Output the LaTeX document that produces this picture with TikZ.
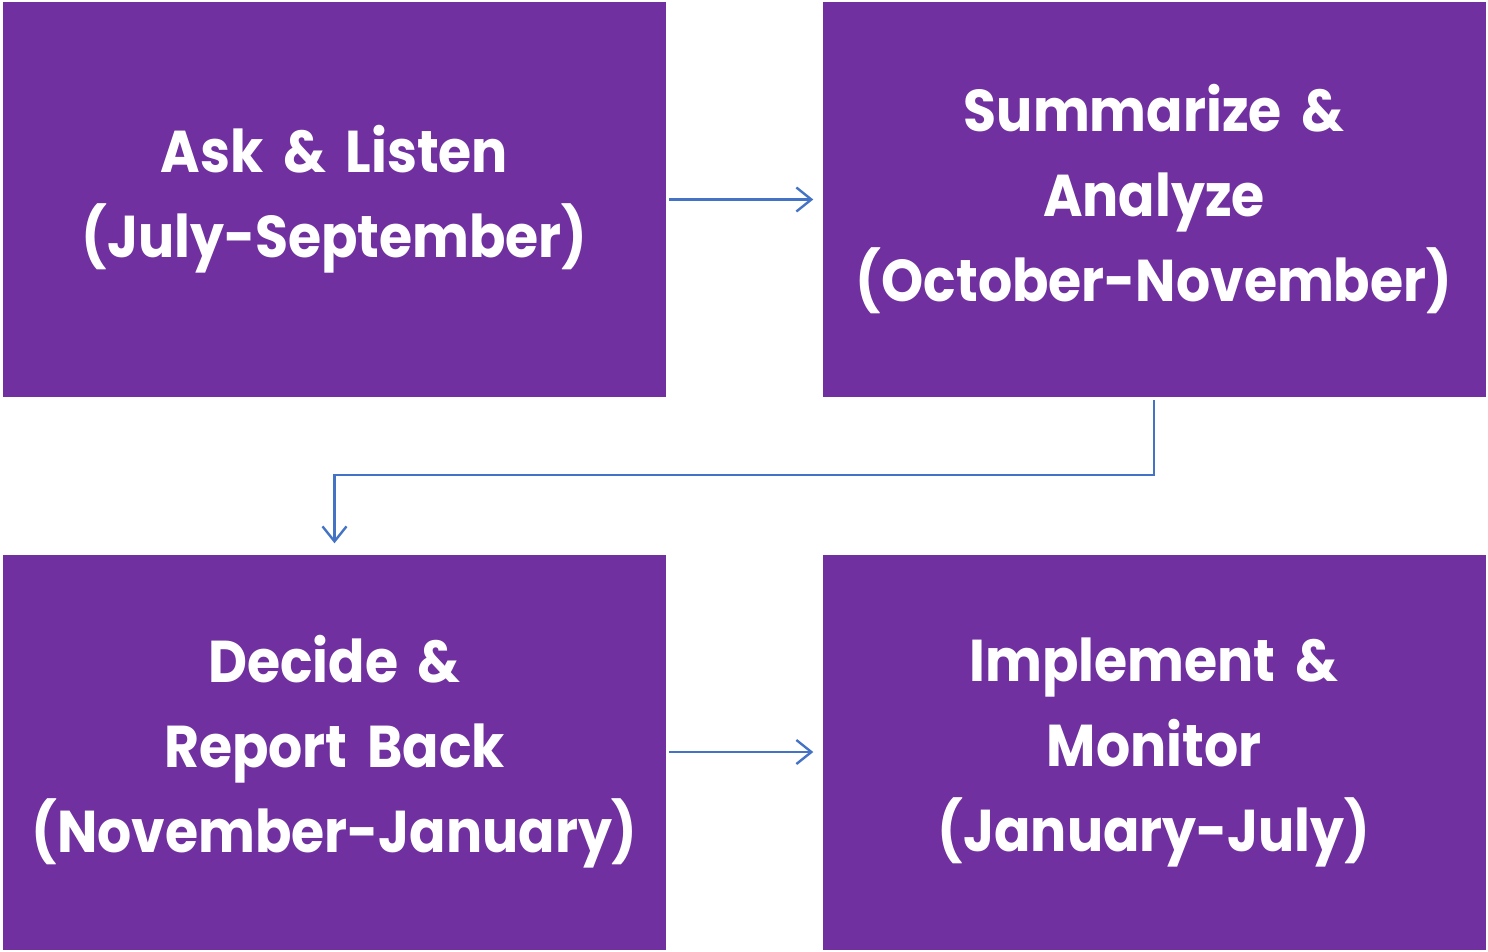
\documentclass[tikz,border=0pt]{standalone}
\usepackage{fontspec}
\setmainfont{Poppins}[UprightFont=* Bold, FakeStretch=0.91, WordSpace=0.8]
\usetikzlibrary{arrows.meta}
\definecolor{stagepurple}{HTML}{7030A0}
\definecolor{flowblue}{HTML}{4472C4}
\tikzset{
  stagebox/.style={fill=stagepurple, text=white, minimum width=663pt,
    minimum height=395pt, text width=650pt, inner sep=0pt, align=center,
    font=\fontsize{59}{85}\selectfont},
  flowarrow/.style={draw=flowblue, line width=2.4pt,
    -{Straight Barb[length=15pt, width=24pt]}}
}
\begin{document}
\begin{tikzpicture}[x=1pt, y=-1pt]
  \useasboundingbox (0,0) rectangle (1488,952);

  \node [stagebox] (ask) at (334.5, 199.5) {Ask \& Listen\\(July-September)};
  \node [stagebox] (summ) at (1154, 199.5) {Summarize \&\\Analyze\\(October-November)};
  \node [stagebox] (decide) at (334.5, 752) {Decide \&\\Report Back\\(November-January)};
  \node [stagebox] (impl) at (1154, 752) {Implement \&\\Monitor\\(January-July)};

  \draw [flowarrow, shorten <=3pt, shorten >=9pt] (ask) -- (summ);
  \draw [flowarrow, shorten <=3pt, shorten >=11pt] (summ.south)
    -- ++(0, 78) -| (decide.north);
  \draw [flowarrow, shorten <=3pt, shorten >=9pt] (decide) -- (impl);

\end{tikzpicture}
\end{document}
